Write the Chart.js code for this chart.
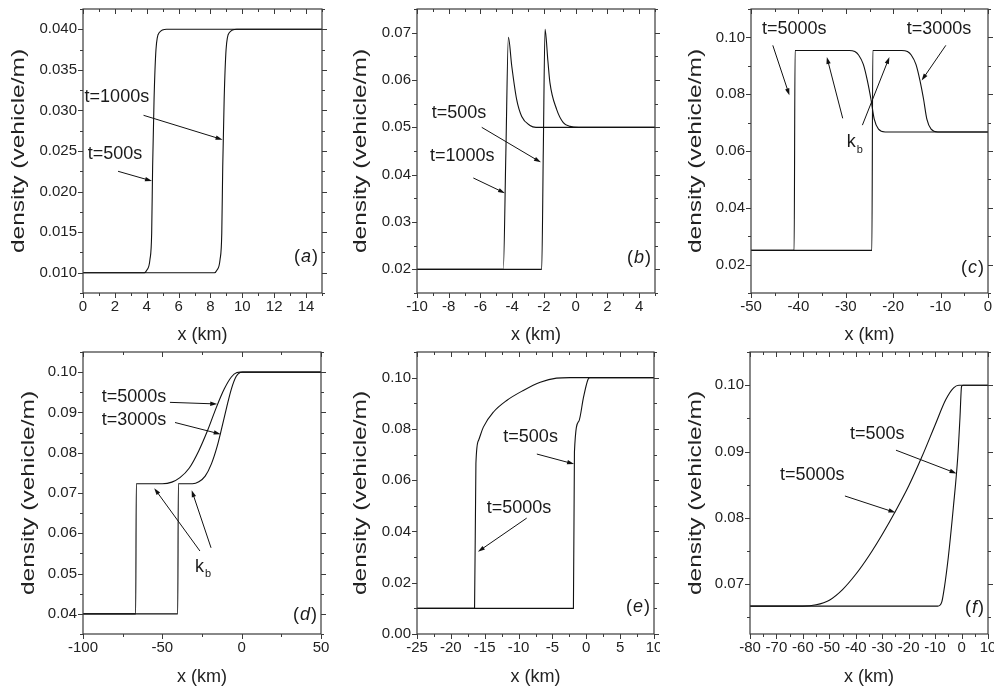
<!DOCTYPE html>
<html>
<head>
<meta charset="utf-8">
<script src="https://cdn.jsdelivr.net/npm/chart.js@4.4.0/dist/chart.umd.min.js"></script>
<style>
  html, body { margin: 0; padding: 0; background: #fff; }
  #wrap { position: relative; width: 994px; height: 689px; overflow: hidden; }
  canvas { position: absolute; }
</style>
</head>
<body>
<div id="wrap"></div>
<script>
// ---- panel (a) ----
const aXLabels = ['0', '2', '4', '6', '8', '10', '12', '14'];
const aYLabels = ['0.010', '0.015', '0.020', '0.025', '0.030', '0.035', '0.040'];
const aT500 = [[0, 0.010], [3.85, 0.010], [4.0, 0.0103], [4.2, 0.0116], [4.31, 0.0149], [4.37, 0.0231], [4.46, 0.0314], [4.58, 0.0375], [4.79, 0.0396], [5.25, 0.0400], [15, 0.0400]];
const aT1000 = [[0, 0.010], [8.25, 0.010], [8.4, 0.0103], [8.6, 0.0116], [8.71, 0.0149], [8.77, 0.0231], [8.86, 0.0314], [8.98, 0.0375], [9.19, 0.0396], [9.65, 0.0400], [15, 0.0400]];
const aTexts = [['t=1000s', 0.1, 0.0316], ['t=500s', 0.3, 0.0246]];
const aArrows = [[3.8, 0.0294, 8.76, 0.0264], [2.2, 0.0225, 4.33, 0.0213]];

// ---- panel (b) ----
const bXLabels = ['-10', '-8', '-6', '-4', '-2', '0', '2', '4'];
const bYLabels = ['0.02', '0.03', '0.04', '0.05', '0.06', '0.07'];
const bT1000 = [[-10, 0.020], [-4.56, 0.020], [-4.40, 0.0445], [-4.24, 0.069], [-4.03, 0.063], [-3.72, 0.0559], [-3.4, 0.0523], [-2.88, 0.0504], [-2.5, 0.0500], [5, 0.0500]];
const bT500 = [[-10, 0.020], [-2.14, 0.020], [-2.04, 0.045], [-1.93, 0.0707], [-1.75, 0.064], [-1.62, 0.0594], [-1.2, 0.0538], [-0.78, 0.051], [-0.36, 0.0502], [0.2, 0.0500], [5, 0.0500]];
const bTexts = [['t=500s', -9.07, 0.0531], ['t=1000s', -9.18, 0.0439]];
const bArrows = [[-5.92, 0.0500, -2.19, 0.0426], [-6.45, 0.0393, -4.45, 0.0361]];

// ---- panel (c) ----
const cXLabels = ['-50', '-40', '-30', '-20', '-10', '0'];
const cYLabels = ['0.02', '0.04', '0.06', '0.08', '0.10'];
const cT5000 = [[-50, 0.025], [-40.9, 0.025], [-40.7, 0.0954], [-29.3, 0.0954], [-28.1, 0.0950], [-27.3, 0.0938], [-26.3, 0.0905], [-25.45, 0.0848], [-24.7, 0.0783], [-24.0, 0.0712], [-23.1, 0.0677], [-21.7, 0.0667], [0, 0.0667]];
const cT3000 = [[-50, 0.025], [-24.5, 0.025], [-24.3, 0.0954], [-18.2, 0.0954], [-17.0, 0.0950], [-16.2, 0.0938], [-15.2, 0.0905], [-14.35, 0.0848], [-13.6, 0.0783], [-12.9, 0.0712], [-12.0, 0.0677], [-10.6, 0.0667], [0, 0.0667]];
const cTexts = [['t=5000s', -47.7, 0.1031], ['t=3000s', -17.15, 0.1031], ['k', -29.8, 0.063, 'b']];
const cArrows = [[-45.4, 0.0972, -41.9, 0.0796], [-8.9, 0.0972, -14.0, 0.0848], [-30.65, 0.0715, -34.0, 0.0931], [-26.5, 0.0691, -20.8, 0.0931]];

// ---- panel (d) ----
const dXLabels = ['-100', '-50', '0', '50'];
const dYLabels = ['0.04', '0.05', '0.06', '0.07', '0.08', '0.09', '0.10'];
const dT5000 = [[-100, 0.040], [-66.8, 0.040], [-66.4, 0.0723], [-50, 0.0723], [-44, 0.0727], [-38.9, 0.0738], [-33, 0.0762], [-27, 0.0805], [-21.5, 0.0855], [-16, 0.0912], [-11, 0.0958], [-6.5, 0.0988], [-3, 0.0999], [-1, 0.1000], [50, 0.1000]];
const dT3000 = [[-100, 0.040], [-40.3, 0.040], [-39.9, 0.0723], [-31, 0.0723], [-27, 0.0728], [-23, 0.0742], [-19, 0.0773], [-15.5, 0.0815], [-12.5, 0.0862], [-9.5, 0.0912], [-6.5, 0.0958], [-3.5, 0.0989], [-1, 0.0999], [0.5, 0.1000], [50, 0.1000]];
const dTexts = [['t=5000s', -88.2, 0.0939], ['t=3000s', -88.2, 0.0881], ['k', -29.4, 0.0517, 'b']];
const dArrows = [[-45.2, 0.0925, -15.4, 0.0921], [-42, 0.0875, -13.2, 0.0846], [-26.3, 0.0556, -55.1, 0.0712], [-19.3, 0.0564, -31.5, 0.0707]];

// ---- panel (e) ----
const eXLabels = ['-25', '-20', '-15', '-10', '-5', '0', '5', '10'];
const eYLabels = ['0.00', '0.02', '0.04', '0.06', '0.08', '0.10'];
const eT5000 = [[-25, 0.010], [-16.5, 0.010], [-16.3, 0.0665], [-15.9, 0.0756], [-15.2, 0.0807], [-13.7, 0.0866], [-11.75, 0.0911], [-9.3, 0.0950], [-6.8, 0.0982], [-4.4, 0.0998], [-2.4, 0.1000], [10, 0.1000]];
const eT500 = [[-25, 0.010], [-1.9, 0.010], [-1.75, 0.071], [-1.1, 0.083], [-0.4, 0.0925], [0.25, 0.0993], [0.55, 0.1000], [10, 0.1000]];
const eTexts = [['t=500s', -12.25, 0.0769], ['t=5000s', -14.7, 0.0491]];
const eArrows = [[-7.3, 0.0702, -1.8, 0.0663], [-8.8, 0.0452, -16.0, 0.0321]];

// ---- panel (f) ----
const fXLabels = ['-80', '-70', '-60', '-50', '-40', '-30', '-20', '-10', '0', '10'];
const fYLabels = ['0.07', '0.08', '0.09', '0.10'];
const fT5000 = [[-80, 0.0667], [-60, 0.0667], [-55, 0.0669], [-50, 0.0676], [-45, 0.0692], [-40, 0.0715], [-35, 0.0743], [-30, 0.0775], [-25, 0.0810], [-20, 0.0848], [-15, 0.0892], [-10, 0.0940], [-6, 0.0978], [-3, 0.0996], [-1, 0.1000], [10, 0.1000]];
const fT500 = [[-80, 0.0667], [-9, 0.0667], [-7.5, 0.0673], [-6.5, 0.0695], [-5, 0.0741], [-3.1, 0.0816], [-1.45, 0.0891], [-0.6, 0.0951], [0, 0.0998], [0.5, 0.1000], [10, 0.1000]];
const fTexts = [['t=500s', -42.2, 0.0926], ['t=5000s', -68.7, 0.0864]];
const fArrows = [[-24.8, 0.0902, -1.9, 0.0867], [-44.1, 0.0833, -25.0, 0.0808]];

const FONT = '"Liberation Sans", Arial, Helvetica, sans-serif';
const Y_TITLE = 'density (vehicle/m)';

const panels = [
  { tag: 'a', tagY: 0.0119, box: [0, 0, 330, 346], yw: 83, pr: 8, pt: 9, xh: 53, ytx: 19, xtp: 0,
    x: [0, 15, 1], y: [0.0075, 0.0425, 0.0025], xl: aXLabels, yl: aYLabels, lines: [aT500, aT1000], texts: aTexts, arrows: aArrows },
  { tag: 'b', tagY: 0.0224, box: [330, 0, 330, 346], yw: 87, pr: 5, pt: 9, xh: 53, ytx: 31, xtp: 0,
    x: [-10, 5, 1], y: [0.015, 0.075, 0.005], xl: bXLabels, yl: bYLabels, lines: [bT1000, bT500], texts: bTexts, arrows: bArrows },
  { tag: 'c', tagY: 0.0189, box: [660, 0, 334, 346], yw: 91, pr: 6, pt: 9, xh: 53, ytx: 36, xtp: 0,
    x: [-50, 0, 5], y: [0.01, 0.11, 0.01], xl: cXLabels, yl: cYLabels, lines: [cT5000, cT3000], texts: cTexts, arrows: cArrows },
  { tag: 'd', tagY: 0.0397, box: [0, 346, 330, 343], yw: 83, pr: 9, pt: 6, xh: 55, ytx: 29, xtp: 1,
    x: [-100, 50, 25], y: [0.035, 0.105, 0.005], xl: dXLabels, yl: dYLabels, lines: [dT5000, dT3000], texts: dTexts, arrows: dArrows },
  { tag: 'e', tagY: 0.0105, box: [330, 346, 330, 343], yw: 87, pr: 6, pt: 6, xh: 55, ytx: 31, xtp: 1,
    x: [-25, 10, 2.5], y: [0, 0.11, 0.01], xl: eXLabels, yl: eYLabels, lines: [eT5000, eT500], texts: eTexts, arrows: eArrows },
  { tag: 'f', tagY: 0.0664, box: [660, 346, 334, 343], yw: 90, pr: 6, pt: 6, xh: 55, ytx: 36, xtp: 1,
    x: [-80, 10, 5], y: [0.0625, 0.105, 0.005], xl: fXLabels, yl: fYLabels, lines: [fT5000, fT500], texts: fTexts, arrows: fArrows }
];

function drawArrow(ctx, x1, y1, x2, y2) {
  const ang = Math.atan2(y2 - y1, x2 - x1), L = 7, W = 2.2;
  const c = Math.cos(ang), s = Math.sin(ang);
  ctx.beginPath();
  ctx.moveTo(x1, y1);
  ctx.lineTo(x2 - c * L * 0.7, y2 - s * L * 0.7);
  ctx.stroke();
  ctx.beginPath();
  ctx.moveTo(x2, y2);
  ctx.lineTo(x2 - L * c + W * s, y2 - L * s - W * c);
  ctx.lineTo(x2 - L * c - W * s, y2 - L * s + W * c);
  ctx.closePath();
  ctx.fill();
}

// frame, ticks, y title, arrows, labels and (x) tag
const decorPlugin = {
  id: 'decor',
  afterDraw(chart) {
    const p = chart.options.plugins.decor.panel;
    const ctx = chart.ctx, a = chart.chartArea;
    const xs = chart.scales.x, ys = chart.scales.y;
    ctx.save();
    ctx.strokeStyle = '#3a3a3a';
    ctx.lineWidth = 1.2;
    ctx.strokeRect(a.left, a.top, a.right - a.left, a.bottom - a.top);

    const majorX = parseFloat(p.xl[1]) - parseFloat(p.xl[0]);
    const majorY = parseFloat(p.yl[1]) - parseFloat(p.yl[0]);
    const isMajor = (v, m, base) => Math.abs((v - base) / m - Math.round((v - base) / m)) < 1e-6;

    ctx.lineWidth = 1;
    ctx.beginPath();
    for (let k = Math.ceil(p.x[0] / p.x[2] - 1e-9); k <= Math.floor(p.x[1] / p.x[2] + 1e-9); k++) {
      const v = k * p.x[2];
      const len = isMajor(v, majorX, parseFloat(p.xl[0])) ? 5 : 3;
      const px = Math.round(xs.getPixelForValue(v)) + 0.5;
      ctx.moveTo(px, a.bottom); ctx.lineTo(px, a.bottom + len);
      ctx.moveTo(px, a.top); ctx.lineTo(px, a.top + len);
    }
    for (let k = Math.ceil(p.y[0] / p.y[2] - 1e-9); k <= Math.floor(p.y[1] / p.y[2] + 1e-9); k++) {
      const v = k * p.y[2];
      const len = isMajor(v, majorY, parseFloat(p.yl[0])) ? 5 : 3;
      const py = Math.round(ys.getPixelForValue(v)) + 0.5;
      ctx.moveTo(a.left, py); ctx.lineTo(a.left - len, py);
      ctx.moveTo(a.right, py); ctx.lineTo(a.right + len, py);
    }
    ctx.stroke();

    // y title, drawn stretched along its length like the original
    ctx.save();
    ctx.translate(p.ytx, (a.top + a.bottom) / 2);
    ctx.rotate(-Math.PI / 2);
    ctx.scale(1.36, 1);
    ctx.font = '18px ' + FONT;
    ctx.fillStyle = '#222';
    ctx.textAlign = 'center';
    ctx.textBaseline = 'middle';
    ctx.fillText(Y_TITLE, 0, 0);
    ctx.restore();

    // arrows
    ctx.strokeStyle = '#111';
    ctx.fillStyle = '#111';
    ctx.lineWidth = 1;
    p.arrows.forEach(r => drawArrow(ctx,
      xs.getPixelForValue(r[0]), ys.getPixelForValue(r[1]),
      xs.getPixelForValue(r[2]), ys.getPixelForValue(r[3])));

    // annotation texts
    ctx.fillStyle = '#1a1a1a';
    ctx.textBaseline = 'middle';
    ctx.textAlign = 'left';
    p.texts.forEach(t => {
      const tx = xs.getPixelForValue(t[1]), ty = ys.getPixelForValue(t[2]);
      ctx.font = '18px ' + FONT;
      ctx.fillText(t[0], tx, ty);
      if (t[3]) {
        const w = ctx.measureText(t[0]).width;
        ctx.font = '11px ' + FONT;
        ctx.fillText(t[3], tx + w + 1, ty + 7);
      }
    });

    // panel tag "(x)"
    let rx = a.right - 4;
    const ty = ys.getPixelForValue(p.tagY);
    ctx.textAlign = 'right';
    ctx.font = '18px ' + FONT;
    ctx.fillText(')', rx, ty);
    rx -= ctx.measureText(')').width + 1;
    ctx.font = 'italic 18px ' + FONT;
    ctx.fillText(p.tag, rx, ty);
    rx -= ctx.measureText(p.tag).width + 1;
    ctx.font = '18px ' + FONT;
    ctx.fillText('(', rx, ty);
    ctx.restore();
  }
};

const wrap = document.getElementById('wrap');
panels.forEach(p => {
  const cv = document.createElement('canvas');
  cv.width = p.box[2];
  cv.height = p.box[3];
  cv.style.left = p.box[0] + 'px';
  cv.style.top = p.box[1] + 'px';
  wrap.appendChild(cv);

  new Chart(cv.getContext('2d'), {
    type: 'line',
    data: {
      datasets: p.lines.map(line => ({
        data: line.map(pt => ({ x: pt[0], y: pt[1] })),
        borderColor: '#111',
        borderWidth: 1.1,
        pointRadius: 0,
        cubicInterpolationMode: 'monotone',
        fill: false
      }))
    },
    options: {
      responsive: false,
      animation: false,
      events: [],
      layout: { padding: { left: 0, top: p.pt, right: p.pr, bottom: 0 } },
      plugins: {
        legend: { display: false },
        tooltip: { enabled: false },
        decor: { panel: p }
      },
      scales: {
        x: {
          type: 'linear',
          min: p.x[0],
          max: p.x[1],
          grid: { display: false, drawTicks: false },
          border: { display: false },
          afterBuildTicks: s => { s.ticks = p.xl.map(l => ({ value: parseFloat(l) })); },
          ticks: {
            autoSkip: false, maxRotation: 0, minRotation: 0, padding: 5,
            color: '#222', font: { family: FONT, size: 15 },
            callback: (v, i) => p.xl[i]
          },
          title: {
            display: true, text: 'x (km)', color: '#222',
            font: { family: FONT, size: 18 }, padding: { top: 0, bottom: p.xtp }
          },
          afterFit: s => { s.height = p.xh; s.paddingLeft = 0; s.paddingRight = 0; }
        },
        y: {
          min: p.y[0],
          max: p.y[1],
          grid: { display: false, drawTicks: false },
          border: { display: false },
          afterBuildTicks: s => { s.ticks = p.yl.map(l => ({ value: parseFloat(l) })); },
          ticks: {
            padding: 6,
            color: '#222', font: { family: FONT, size: 15 },
            callback: (v, i) => p.yl[i]
          },
          title: { display: false },
          afterFit: s => { s.width = p.yw; s.paddingTop = 0; s.paddingBottom = 0; }
        }
      }
    },
    plugins: [decorPlugin]
  });
});
</script>
</body>
</html>
